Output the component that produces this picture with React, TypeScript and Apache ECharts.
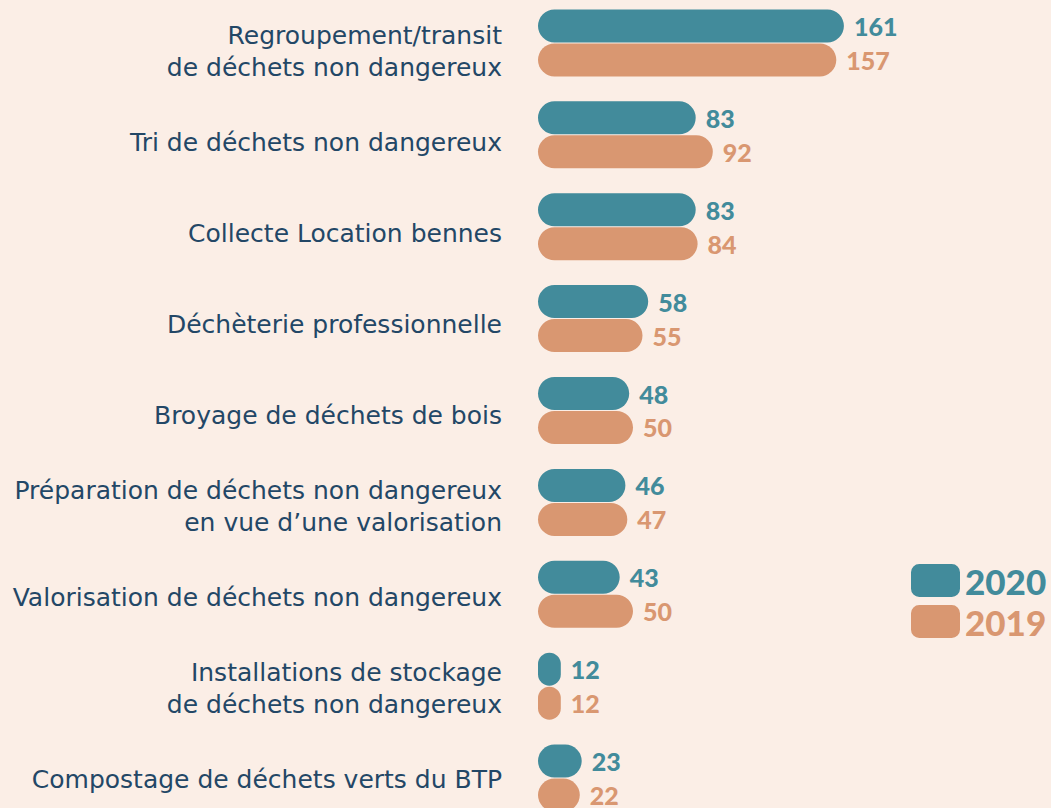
import React, { useEffect, useRef } from "react";
import * as echarts from "echarts";

const categories = [
  "Regroupement/transit\nde déchets non dangereux",
  "Tri de déchets non dangereux",
  "Collecte Location bennes",
  "Déchèterie professionnelle",
  "Broyage de déchets de bois",
  "Préparation de déchets non dangereux\nen vue d’une valorisation",
  "Valorisation de déchets non dangereux",
  "Installations de stockage\nde déchets non dangereux",
  "Compostage de déchets verts du BTP",
];
const values2020 = [161, 83, 83, 58, 48, 46, 43, 12, 23];
const values2019 = [157, 92, 84, 55, 50, 47, 50, 12, 22];
const seriesNames = ["2020", "2019"];

const TEAL = "#428b9b";
const SALMON = "#d99771";
const BG = "#fbeee6";
const OFFSET = 10;

export default function App() {
  const ref = useRef<HTMLDivElement>(null);
  useEffect(() => {
    if (!ref.current) return;
    const chart = echarts.init(ref.current, undefined, { renderer: "svg" });
    const labelStyle = (color: string) => ({
      show: true,
      position: "right",
      distance: 10,
      color,
      fontFamily: "Lato",
      fontWeight: 900,
      fontSize: 25,
    });
    chart.setOption({
      animation: false,
      backgroundColor: BG,
      grid: [
        { left: 538, top: -3 + OFFSET, height: 827, width: 380, containLabel: false },
        { left: 538, top: 5.5 + OFFSET, height: 819, width: 380, containLabel: false },
      ],
      xAxis: [
        { type: "value", min: 0, max: 200, show: false, gridIndex: 0 },
        { type: "value", min: 0, max: 200, show: false, gridIndex: 1 },
      ],
      yAxis: [
        {
          type: "category",
          gridIndex: 0,
          data: categories,
          inverse: true,
          axisLine: { show: false },
          axisTick: { show: false },
          axisLabel: { show: false },
        },
        {
          type: "category",
          gridIndex: 1,
          data: categories,
          inverse: true,
          axisLine: { show: false },
          axisTick: { show: false },
          axisLabel: {
            margin: 36,
            color: "#234766",
            fontFamily: "DejaVu Sans",
            fontSize: 25,
            lineHeight: 32,
            align: "right",
          },
        },
      ],
      legend: {
        orient: "vertical",
        left: 911,
        top: 563 + OFFSET,
        padding: 0,
        itemWidth: 49,
        itemHeight: 33,
        itemGap: 6,
        icon: "roundRect",
        data: [
          { name: seriesNames[0], textStyle: { color: TEAL } },
          { name: seriesNames[1], textStyle: { color: SALMON } },
        ],
        textStyle: { fontFamily: "Lato", fontWeight: 900, fontSize: 35 },
      },
      series: [
        {
          name: seriesNames[0],
          type: "bar",
          xAxisIndex: 0,
          yAxisIndex: 0,
          data: values2020,
          barWidth: 33,
          barGap: "3%",
          itemStyle: { color: TEAL, borderRadius: 17 },
          label: labelStyle(TEAL),
        },
        {
          name: seriesNames[1],
          type: "bar",
          xAxisIndex: 0,
          yAxisIndex: 0,
          data: values2019,
          barWidth: 33,
          itemStyle: { color: SALMON, borderRadius: 17 },
          label: labelStyle(SALMON),
        },
      ],
    });
    return () => chart.dispose();
  }, []);
  return (
    <div
      ref={ref}
      style={{ position: "fixed", left: 0, top: -OFFSET, width: 1051, height: 850 }}
    />
  );
}
